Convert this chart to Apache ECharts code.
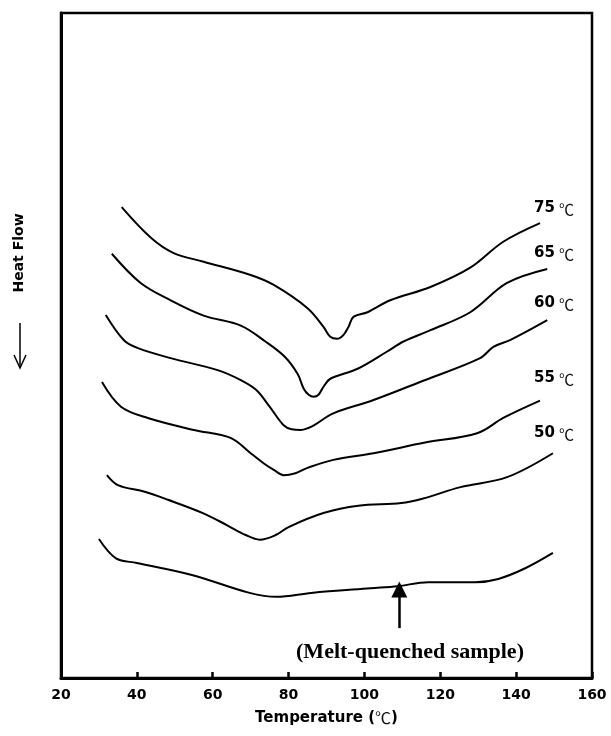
<!DOCTYPE html>
<html>
<head>
<meta charset="utf-8">
<script src="https://cdn.jsdelivr.net/npm/echarts@6/dist/echarts.min.js"></script>
<style>
  html, body { margin: 0; padding: 0; background: #fff; }
  #chart { width: 611px; height: 736px; }
</style>
</head>
<body>
<div id="chart"></div>
<script>
// DSC heating traces (heat flow, arbitrary units, offset per trace) vs temperature
const xTicks = [20, 40, 60, 80, 100, 120, 140, 160];
const annealLabels = ['75', '65', '60', '55', '50'];
const quenchLabel = '(Melt-quenched sample)';

const t75  = [36.0, 43.7, 49.7, 57.6, 70.0, 76.1, 85.0, 89.2, 91.0, 92.8, 94.5, 95.8, 97.1, 100.8, 106.8, 117.4, 127.9, 136.6, 146.3];
const hf75 = [70.8, 66.2, 63.9, 62.6, 60.6, 59.1, 55.6, 52.8, 51.3, 51.0, 51.6, 52.8, 54.3, 55.0, 56.8, 58.8, 61.7, 65.6, 68.4];

const t65  = [33.4, 41.0, 48.9, 57.6, 67.4, 73.9, 79.0, 82.4, 84.0, 85.3, 86.6, 87.9, 89.2, 91.0, 98.2, 106.0, 110.3, 117.4, 127.9, 137.6, 148.2];
const hf65 = [63.8, 59.4, 56.8, 54.5, 53.0, 50.6, 48.3, 45.7, 43.5, 42.6, 42.3, 42.6, 43.8, 45.0, 46.5, 49.1, 50.6, 52.3, 55.0, 59.4, 61.5];

const t60  = [31.8, 36.6, 40.3, 48.9, 61.3, 67.4, 71.5, 75.0, 78.7, 80.8, 83.2, 85.2, 87.0, 91.8, 102.4, 115.5, 130.5, 134.0, 138.4, 148.2];
const hf60 = [54.6, 50.8, 49.6, 48.1, 46.3, 44.8, 43.3, 40.8, 38.0, 37.4, 37.3, 37.6, 38.1, 39.8, 41.8, 44.7, 48.1, 49.8, 50.8, 53.8];

const t55  = [30.8, 35.8, 42.9, 55.0, 64.7, 70.0, 73.4, 76.1, 78.7, 81.8, 85.0, 91.8, 102.4, 116.0, 129.7, 136.6, 146.3];
const hf55 = [44.5, 40.8, 39.1, 37.3, 36.1, 33.8, 32.3, 31.3, 30.5, 30.8, 31.6, 32.8, 33.8, 35.4, 36.8, 39.1, 41.7];

const t50  = [32.1, 35.0, 42.1, 48.2, 57.4, 63.7, 68.7, 72.4, 76.6, 80.0, 89.2, 98.4, 109.7, 115.5, 125.3, 137.6, 149.7];
const hf50 = [30.5, 29.0, 28.0, 26.8, 24.8, 23.0, 21.5, 20.8, 21.5, 22.7, 24.8, 25.9, 26.3, 27.0, 28.7, 30.2, 33.8];

const tMQ  = [30.0, 34.5, 40.0, 54.5, 69.7, 76.8, 86.0, 101.6, 108.7, 116.8, 122.9, 129.2, 135.3, 142.4, 149.7];
const hfMQ = [20.9, 18.0, 17.3, 15.5, 12.8, 12.2, 12.8, 13.5, 13.8, 14.4, 14.4, 14.4, 14.9, 16.5, 18.8];

// arrow pointing at the quenched trace: temperature, shaft foot, tip
const arrowT = 109.2;
const arrowFrom = 7.5;
const arrowTo = 13.3;

const traces = [
  [t75, hf75], [t65, hf65], [t60, hf60], [t55, hf55], [t50, hf50], [tMQ, hfMQ]
];

const zip = (xs, ys) => xs.map((x, i) => [x, ys[i]]);

const series = traces.map(([xs, ys]) => ({
  type: 'line',
  data: zip(xs, ys),
  showSymbol: false,
  symbol: 'none',
  smooth: 0.35,
  lineStyle: { color: '#000', width: 2 },
  silent: true,
  z: 3
}));

series[5].markLine = {
  silent: true,
  symbol: ['none', 'triangle'],
  symbolSize: 16,
  lineStyle: { color: '#000', width: 2.5, type: 'solid' },
  itemStyle: { color: '#000' },
  label: { show: false },
  data: [[{ coord: [arrowT, arrowFrom] }, { coord: [arrowT, arrowTo] }]]
};

const numFont = 'bold 15px "DejaVu Sans"';
const unitFont = '15px "Noto Sans CJK SC"';
const labelY = [208, 253, 303, 378, 433];

const graphic = [];
annealLabels.forEach((s, i) => {
  graphic.push({
    type: 'text', x: 534, y: labelY[i], silent: true,
    style: { text: s, font: numFont, fill: '#000', align: 'left', verticalAlign: 'middle' }
  });
  graphic.push({
    type: 'text', x: 559, y: labelY[i] + 1, silent: true,
    style: { text: '℃', font: unitFont, fill: '#111', align: 'left', verticalAlign: 'middle' }
  });
});

// y-axis caption with downward arrow
graphic.push({
  type: 'text', x: 19, y: 253, rotation: Math.PI / 2, silent: true,
  style: { text: 'Heat Flow', font: 'bold 14px "DejaVu Sans"', fill: '#000', align: 'center', verticalAlign: 'middle' }
});
graphic.push({
  type: 'line', silent: true,
  shape: { x1: 20, y1: 323, x2: 20, y2: 367 },
  style: { stroke: '#000', lineWidth: 1.5 }
});
graphic.push({
  type: 'polyline', silent: true,
  shape: { points: [[14, 355], [20, 368], [26, 355]] },
  style: { stroke: '#000', lineWidth: 1.5, fill: null }
});

graphic.push({
  type: 'text', x: 410, y: 652, silent: true,
  style: { text: quenchLabel, font: 'bold 22px "Liberation Serif"', fill: '#000', align: 'center', verticalAlign: 'middle' }
});

const chart = echarts.init(document.getElementById('chart'), null, { renderer: 'canvas' });
chart.setOption({
  animation: false,
  backgroundColor: '#fff',
  grid: {
    left: 61, right: 19, top: 13, bottom: 58,
    show: true, borderColor: '#000', borderWidth: 2.5, backgroundColor: 'transparent'
  },
  xAxis: {
    type: 'value',
    min: xTicks[0],
    max: xTicks[xTicks.length - 1],
    interval: xTicks[1] - xTicks[0],
    name: '{b|Temperature (}{u|℃}{b|)}',
    nameLocation: 'middle',
    nameGap: 32,
    nameTextStyle: {
      rich: {
        b: { fontFamily: 'DejaVu Sans', fontWeight: 'bold', fontSize: 15, color: '#000' },
        u: { fontFamily: 'Noto Sans CJK SC', fontSize: 16, color: '#111' }
      }
    },
    axisLine: { show: true, onZero: false, lineStyle: { color: '#000', width: 3 } },
    axisTick: { show: true, inside: true, length: 6, lineStyle: { color: '#000', width: 2.5 } },
    axisLabel: { margin: 10, color: '#000', fontFamily: 'DejaVu Sans', fontWeight: 'bold', fontSize: 14 },
    splitLine: { show: false }
  },
  yAxis: {
    type: 'value',
    min: 0,
    max: 100,
    axisLine: { show: true, onZero: false, lineStyle: { color: '#000', width: 3 } },
    axisTick: { show: false },
    axisLabel: { show: false },
    splitLine: { show: false }
  },
  series: series,
  graphic: graphic
});
</script>
</body>
</html>
